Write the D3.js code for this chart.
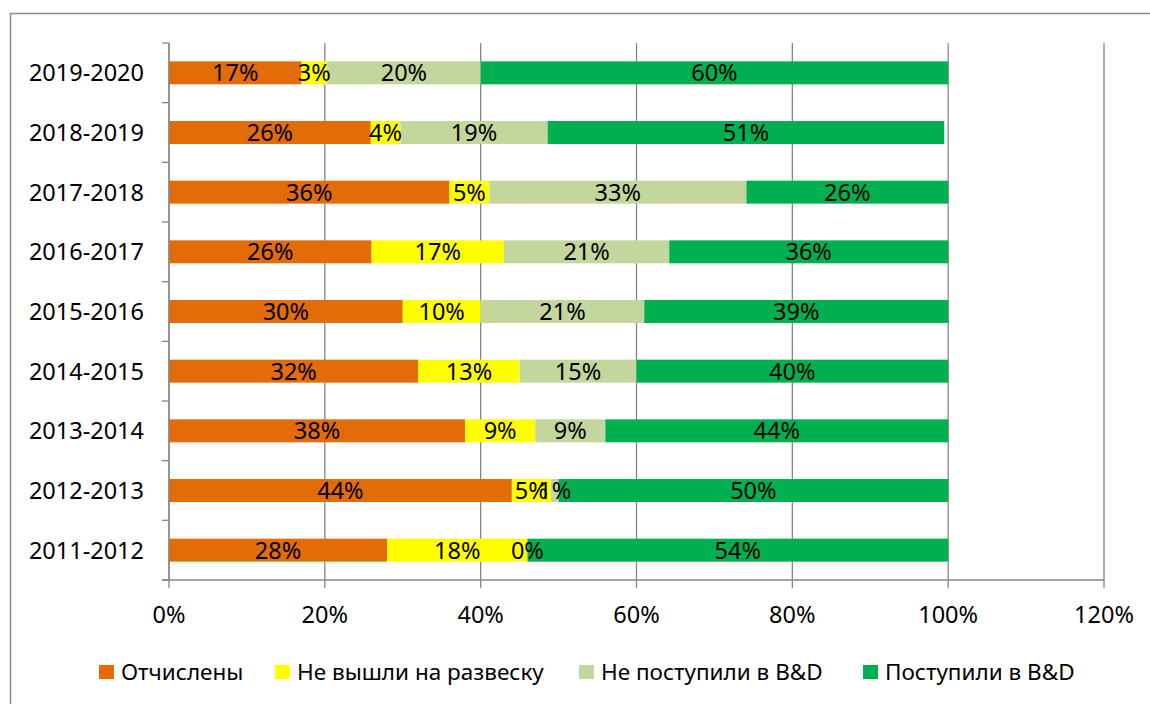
<!DOCTYPE html>
<html>
<head>
<meta charset="utf-8">
<script src="https://cdn.jsdelivr.net/npm/d3@7"></script>
<style>
  html, body { margin: 0; padding: 0; background: #fff; }
  svg { display: block; font-family: "Noto Sans", "Open Sans", sans-serif; }
</style>
</head>
<body>
<svg width="1150" height="704"></svg>
<script>
// years, top row first
const years = ["2019-2020", "2018-2019", "2017-2018", "2016-2017", "2015-2016",
               "2014-2015", "2013-2014", "2012-2013", "2011-2012"];

const seriesNames = ["Отчислены", "Не вышли на развеску", "Не поступили в B&D", "Поступили в B&D"];
const otchisleny   = [17, 25.9, 36, 26, 30, 32, 38, 44, 28];
const neVyshli     = [3.3, 3.8, 5.1, 17, 10, 13, 9, 5, 18];
const nePostupili  = [19.7, 18.9, 33, 21.2, 21, 15, 9, 1, 0];
const postupili    = [60, 50.9, 25.9, 35.8, 39, 40, 44, 50, 54];

const colors = ["#E36C09", "#FFFF00", "#C3D69B", "#00B050"];
const xTicks = [0, 20, 40, 60, 80, 100, 120];

const svg = d3.select("svg");
const gridColor = "#868686";
const fs = 23.5;

// chart frame
svg.append("rect")
  .attr("x", 10.5).attr("y", 13.5)
  .attr("width", 1160).attr("height", 720)
  .attr("fill", "none")
  .attr("stroke", "#8c8c8c")
  .attr("stroke-width", 1.5);

const x = d3.scaleLinear().domain([0, 120]).range([169, 1104]);
const y = d3.scaleBand().domain(years).range([43, 580]).paddingInner(0.615).paddingOuter(0.3075);
const step = y.step();

// gridlines
svg.append("g")
  .selectAll("line")
  .data(xTicks)
  .join("line")
  .attr("x1", d => x(d)).attr("x2", d => x(d))
  .attr("y1", 43).attr("y2", 580)
  .attr("stroke", gridColor).attr("stroke-width", 1.3);

// stack
const series = [otchisleny, neVyshli, nePostupili, postupili];
const rows = years.map((yr, i) => {
  let acc = 0;
  return series.map((s, k) => {
    const seg = { year: yr, k: k, v: s[i], x0: acc, x1: acc + s[i] };
    acc += s[i];
    return seg;
  });
}).flat();

svg.append("g")
  .selectAll("rect")
  .data(rows)
  .join("rect")
  .attr("x", d => x(d.x0))
  .attr("y", d => y(d.year))
  .attr("width", d => x(d.x1) - x(d.x0))
  .attr("height", y.bandwidth())
  .attr("fill", d => colors[d.k]);

svg.append("g")
  .selectAll("text")
  .data(rows)
  .join("text")
  .attr("x", d => x((d.x0 + d.x1) / 2))
  .attr("y", d => y(d.year) + y.bandwidth() / 2 + 8.5)
  .attr("text-anchor", "middle")
  .attr("font-size", fs)
  .attr("fill", "#000")
  .text(d => Math.round(d.v) + "%");

// y axis line and ticks
const yAxis = svg.append("g");
yAxis.append("line")
  .attr("x1", 169).attr("x2", 169).attr("y1", 43).attr("y2", 580)
  .attr("stroke", gridColor).attr("stroke-width", 1.3);
yAxis.selectAll("line.tick")
  .data(d3.range(years.length + 1))
  .join("line")
  .attr("class", "tick")
  .attr("x1", 162).attr("x2", 169)
  .attr("y1", i => 43 + i * step).attr("y2", i => 43 + i * step)
  .attr("stroke", gridColor).attr("stroke-width", 1.3);
yAxis.selectAll("text")
  .data(years)
  .join("text")
  .attr("x", 144)
  .attr("y", d => y(d) + y.bandwidth() / 2 + 8.5)
  .attr("text-anchor", "end")
  .attr("font-size", fs)
  .text(d => d);

// x axis
const xAxis = svg.append("g");
xAxis.append("line")
  .attr("x1", 162).attr("x2", 1104).attr("y1", 580).attr("y2", 580)
  .attr("stroke", gridColor).attr("stroke-width", 1.3);
xAxis.selectAll("line.tick")
  .data(xTicks)
  .join("line")
  .attr("class", "tick")
  .attr("x1", d => x(d)).attr("x2", d => x(d))
  .attr("y1", 580).attr("y2", 588)
  .attr("stroke", gridColor).attr("stroke-width", 1.3);
xAxis.selectAll("text")
  .data(xTicks)
  .join("text")
  .attr("x", d => x(d))
  .attr("y", 623)
  .attr("text-anchor", "middle")
  .attr("font-size", fs)
  .text(d => d + "%");

// legend
const legendX = [99, 275, 579, 863];
const legend = svg.append("g")
  .selectAll("g")
  .data(seriesNames)
  .join("g")
  .attr("transform", (d, i) => `translate(${legendX[i]},665)`);
legend.append("rect")
  .attr("width", 15).attr("height", 14)
  .attr("fill", (d, i) => colors[i]);
legend.append("text")
  .attr("x", 22).attr("y", 14.5)
  .attr("font-size", 22.5)
  .text(d => d);
</script>
</body>
</html>
